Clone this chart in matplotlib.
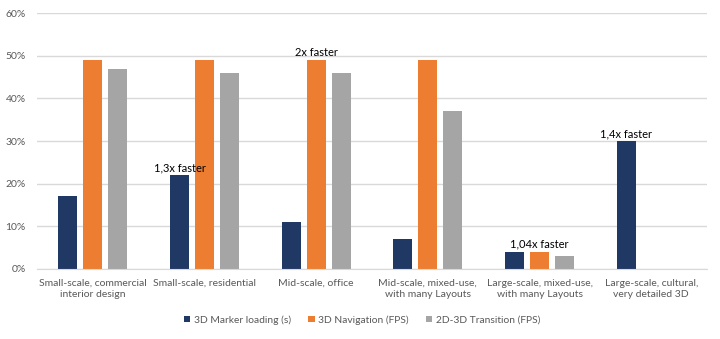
import numpy as np
import matplotlib.pyplot as plt
from matplotlib.ticker import PercentFormatter

plt.rcParams['font.family'] = ['Lato', 'DejaVu Sans']

categories = [
    "Small-scale, commercial\ninterior design",
    "Small-scale, residential",
    "Mid-scale, office",
    "Mid-scale, mixed-use,\nwith many Layouts",
    "Large-scale, mixed-use,\nwith many Layouts",
    "Large-scale, cultural,\nvery detailed 3D",
]
marker_loading = [17, 22, 11, 7, 4, 30]
navigation_fps = [49, 49, 49, 49, 4, 0]
transition_fps = [47, 46, 46, 37, 3, 0]

series = [
    ("3D Marker loading (s)", marker_loading, "#203864"),
    ("3D Navigation (FPS)", navigation_fps, "#ED7D31"),
    ("2D-3D Transition (FPS)", transition_fps, "#A5A5A5"),
]

# (group index, series index, text)
notes = [
    (1, 0, "1,3x faster"),
    (2, 1, "2x faster"),
    (4, 1, "1,04x faster"),
    (5, 0, "1,4x faster"),
]

fig = plt.figure(figsize=(7.2, 3.39), dpi=100)
ax = fig.add_axes([0.0514, 0.2065, 0.9306, 0.755])

x = np.arange(len(categories))
step = 0.224
width = 0.17
for i, (name, vals, color) in enumerate(series):
    ax.bar(x + (i - 1) * step, vals, width, color=color, label=name, zorder=2)

for g, s, txt in notes:
    v = series[s][1][g]
    ax.annotate(txt, (x[g] + (s - 1) * step, v), xytext=(0, 1.5),
                textcoords="offset points", ha="center", va="bottom",
                fontsize=8, color="black")

ax.set_xlim(-0.5, len(categories) - 0.5)
ax.set_ylim(0, 60)
ax.set_yticks(range(0, 61, 10))
ax.yaxis.set_major_formatter(PercentFormatter(decimals=0))
ax.grid(axis="y", color="#D9D9D9", linewidth=1, zorder=0)
ax.set_xticks(x)
ax.set_xticklabels(categories, fontsize=7.5, color="#595959", linespacing=1.35)
ax.tick_params(axis="x", length=0, pad=7)
ax.tick_params(axis="y", length=0, labelsize=7.5, labelcolor="#595959", pad=8)
for sp in ["top", "right", "left"]:
    ax.spines[sp].set_visible(False)
ax.spines["bottom"].set_color("#D9D9D9")

fig.legend(loc="lower center", bbox_to_anchor=(0.503, 0.015), ncol=3, frameon=False,
           fontsize=7.4, labelcolor="#595959", handlelength=0.6, handleheight=0.6,
           handletextpad=0.35, columnspacing=1.7)

fig.savefig("out.png", dpi=100)
